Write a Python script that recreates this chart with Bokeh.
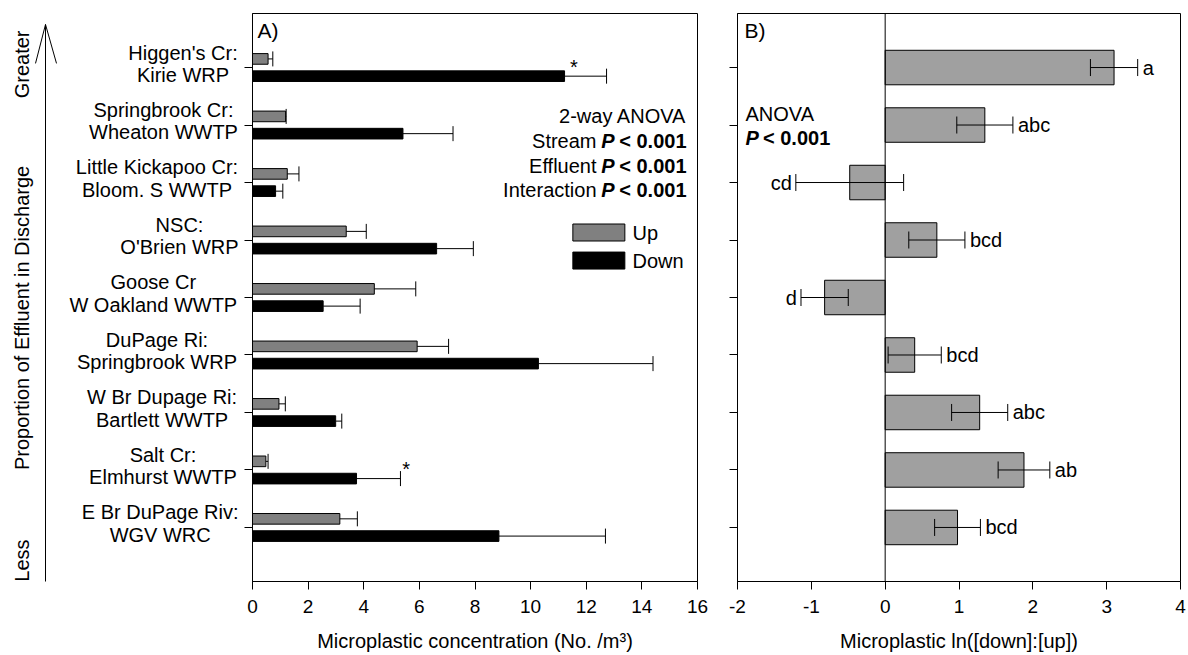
import math
from bokeh.plotting import figure
from bokeh.layouts import row
from bokeh.models import (ColumnDataSource, Range1d, FixedTicker, Whisker, TeeHead, Span,
                          Label, Arrow)
from bokeh.core.properties import value
from bokeh.embed import file_html
from bokeh.resources import INLINE

# ---------------- data ----------------
site_line1 = ["Higgen's Cr:", "Springbrook Cr:", "Little Kickapoo Cr:", "NSC:", "Goose Cr",
              "DuPage Ri:", "W Br Dupage Ri:", "Salt Cr:", "E Br DuPage Riv:"]
site_line2 = ["Kirie WRP", "Wheaton WWTP", "Bloom. S WWTP", "O'Brien WRP", "W Oakland WWTP",
              "Springbrook WRP", "Bartlett WWTP", "Elmhurst WWTP", "WGV WRC"]
up_mean = [0.56, 1.19, 1.25, 3.37, 4.38, 5.92, 0.95, 0.48, 3.14]
up_err = [0.17, 0.02, 0.42, 0.72, 1.49, 1.13, 0.23, 0.08, 0.63]
down_mean = [11.22, 5.41, 0.83, 6.62, 2.54, 10.28, 2.99, 3.74, 8.86]
down_err = [1.51, 1.80, 0.26, 1.32, 1.33, 4.12, 0.22, 1.58, 3.83]
ln_ratio = [3.10, 1.35, -0.48, 0.70, -0.82, 0.40, 1.28, 1.88, 0.98]
ln_err = [0.32, 0.38, 0.73, 0.38, 0.32, 0.36, 0.38, 0.35, 0.31]
letters = ["a", "abc", "cd", "bcd", "d", "bcd", "abc", "ab", "bcd"]
sig_sites = ["Higgen's Cr:", "Salt Cr:"]
x_ticks_a = [0, 2, 4, 6, 8, 10, 12, 14, 16]
x_ticks_b = [-2, -1, 0, 1, 2, 3, 4]

# ---------------- layout constants (page pixels) ----------------
FONT = "Liberation Sans"
FIG_H = 654
TOP = 13
BOTTOM = 72
FH = FIG_H - TOP - BOTTOM
Y0, Y1 = 0.06, 9.94
PPU = FH / (Y1 - Y0)
LEFT_W = 240
A_BL, A_FW, A_BR = 12, 445, 14
B_BL, B_FW, B_BR = 26, 443, 6
A_X0 = LEFT_W + A_BL
B_X0 = LEFT_W + A_BL + A_FW + A_BR + B_BL
BASE_FIX = 7  # px: lift for alphabetic-baseline texts
UP_COLOR = "#808080"
B_COLOR = "#a0a0a0"
LABEL_CX = [182.5, 163, 156.5, 179, 152.8, 156.5, 161.6, 162.5, 159.7]
SIG_X = [573.5, 405.7]

n = len(site_line1)
ypos = [n - i for i in range(n)]


def ry(y_px):
    return Y1 - (y_px - TOP) / PPU


def rby(y_px):
    # baseline position (alphabetic) with render correction
    return ry(y_px - BASE_FIX)


def rxa(x_px):
    return (x_px - A_X0) / A_FW * 16


def rxb(x_px):
    return (x_px - B_X0) / B_FW * 6 - 2


def txt(p, x, y, t, size="20px", align="left", baseline="alphabetic", style="normal",
        x_offset=0, angle=0):
    p.text(x=x, y=y, text=t, text_font=value(FONT), text_font_size=value(size),
           text_align=align, text_baseline=baseline, text_font_style=style,
           text_color="black", x_offset=x_offset, angle=angle)


def style_axes(p):
    for ax in list(p.xaxis) + list(p.yaxis):
        ax.major_tick_in = 0
        ax.major_tick_out = 8
        ax.minor_tick_line_color = None
        ax.axis_line_color = "black"
        ax.major_tick_line_color = "black"
        ax.major_label_text_font = FONT
        ax.axis_label_text_font = FONT
        ax.axis_label_text_font_style = "normal"
        ax.axis_label_text_font_size = "20px"
        ax.axis_label_text_color = "black"
        ax.major_label_text_color = "black"
    p.xaxis.major_label_text_font_size = "19px"
    p.xaxis.major_label_standoff = 10
    p.xaxis.axis_label_standoff = 14
    p.yaxis.ticker = FixedTicker(ticks=ypos)
    p.yaxis.major_label_text_font_size = "0px"
    p.yaxis.major_label_overrides = {y: "" for y in ypos}
    p.yaxis.major_label_standoff = 0
    p.grid.visible = False
    p.outline_line_color = "black"
    p.outline_line_width = 1
    p.outline_line_alpha = 1


y_range = Range1d(Y0, Y1)

# ---------------- left label area ----------------
pl = figure(width=LEFT_W, height=FIG_H, x_range=Range1d(0, LEFT_W), y_range=y_range,
            x_axis_type=None, y_axis_type=None, output_backend="svg",
            toolbar_location=None, min_border_left=0, min_border_right=0,
            min_border_top=TOP, min_border_bottom=BOTTOM, outline_line_color=None)
pl.grid.visible = False
for t, yy in (("Proportion of Effluent in Discharge", 318), ("Greater", 64), ("Less", 561)):
    pl.add_layout(Label(x=21, y=ry(yy), text=t, angle=math.pi / 2, text_align="center",
                        text_baseline="middle", text_font=FONT, text_font_size="20px",
                        text_color="black"))
pl.add_layout(Arrow(x_start=45, y_start=ry(24), x_end=45, y_end=ry(598), start=None, end=None,
                    line_color="black", line_width=1))
pl.segment(x0=[45, 45], y0=[ry(24)] * 2, x1=[35, 56], y1=[ry(63), ry(63)],
           line_color="black", line_width=1)
txt(pl, LABEL_CX, [y + 0.14 + BASE_FIX / PPU for y in ypos], site_line1, align="center")
txt(pl, LABEL_CX, [y - 0.245 + BASE_FIX / PPU for y in ypos], site_line2, align="center")

# ---------------- panel A ----------------
pa = figure(width=A_BL + A_FW + A_BR, height=FIG_H, x_range=Range1d(0, 16), y_range=y_range,
            output_backend="svg", toolbar_location=None,
            min_border_left=A_BL, min_border_right=A_BR,
            min_border_top=TOP, min_border_bottom=BOTTOM)
src_a = ColumnDataSource(dict(
    y_up=[y + 0.15 for y in ypos], y_dn=[y - 0.15 for y in ypos],
    up=up_mean, dn=down_mean,
    up_hi=[m + e for m, e in zip(up_mean, up_err)],
    dn_hi=[m + e for m, e in zip(down_mean, down_err)],
))
pa.hbar(y="y_up", left=0, right="up", height=0.185, fill_color=UP_COLOR,
        line_color="black", line_width=1, source=src_a)
pa.hbar(y="y_dn", left=0, right="dn", height=0.185, fill_color="black",
        line_color="black", line_width=1, source=src_a)
for base, lo, hi in (("y_up", "up", "up_hi"), ("y_dn", "dn", "dn_hi")):
    pa.add_layout(Whisker(source=src_a, base=base, lower=lo, upper=hi, dimension="width",
                          lower_head=None,
                          upper_head=TeeHead(size=15, line_color="black", line_width=1),
                          line_color="black", line_width=1, level="annotation"))
style_axes(pa)
pa.xaxis.ticker = FixedTicker(ticks=x_ticks_a)
pa.xaxis.axis_label = "Microplastic concentration (No. /m\u00b3)"

sig_y = [ypos[site_line1.index(s)] - 0.15 + 0.16 for s in sig_sites]
txt(pa, [rxa(x) for x in SIG_X], sig_y, ["*"] * len(sig_sites), align="center")

txt(pa, [rxa(257)], [rby(36.7)], ["A)"], size="21px")
ax_anchor = rxa(686)
txt(pa, [ax_anchor], [rby(123)], ["2-way ANOVA"], align="right")
rows_y = [rby(148), rby(173), rby(197)]
txt(pa, [ax_anchor] * 3, rows_y, ["Stream", "Effluent", "Interaction"], align="right",
    x_offset=-90)
txt(pa, [ax_anchor] * 3, rows_y, ["P"] * 3, align="right", style="bold italic", x_offset=-71.8)
txt(pa, [ax_anchor] * 3, rows_y, ["< 0.001"] * 3, align="right", style="bold")

# legend
pa.rect(x=[rxa(598.35)] * 2, y=[ry(232.4), ry(260.5)], width=52, height=17,
        width_units="screen", height_units="screen",
        fill_color=[UP_COLOR, "black"], line_color="black", line_width=1)
txt(pa, [rxa(624)] * 2, [ry(232.4), ry(260.5)], ["Up", "Down"], baseline="middle",
    x_offset=8)

# ---------------- panel B ----------------
pb = figure(width=B_BL + B_FW + B_BR, height=FIG_H, x_range=Range1d(-2, 4), y_range=y_range,
            output_backend="svg", toolbar_location=None,
            min_border_left=B_BL, min_border_right=B_BR,
            min_border_top=TOP, min_border_bottom=BOTTOM)
src_b = ColumnDataSource(dict(
    y=ypos, v=ln_ratio,
    lo=[m - e for m, e in zip(ln_ratio, ln_err)],
    hi=[m + e for m, e in zip(ln_ratio, ln_err)],
))
pb.hbar(y="y", left=0, right="v", height=0.6, fill_color=B_COLOR, line_color="black",
        line_width=1, source=src_b)
pb.add_layout(Span(location=0, dimension="height", line_color="black", line_width=1))
pb.add_layout(Whisker(source=src_b, base="y", lower="lo", upper="hi", dimension="width",
                      lower_head=TeeHead(size=17, line_color="black", line_width=1),
                      upper_head=TeeHead(size=17, line_color="black", line_width=1),
                      line_color="black", line_width=1, level="annotation"))
style_axes(pb)
pb.xaxis.ticker = FixedTicker(ticks=x_ticks_b)
pb.xaxis.major_label_overrides = {t: str(t) for t in x_ticks_b}
pb.xaxis.axis_label = "Microplastic ln([down]:[up])"

pos_i = [i for i in range(n) if ln_ratio[i] >= 0]
neg_i = [i for i in range(n) if ln_ratio[i] < 0]
txt(pb, [ln_ratio[i] + ln_err[i] for i in pos_i], [ypos[i] for i in pos_i],
    [letters[i] for i in pos_i], baseline="middle", x_offset=5)
txt(pb, [ln_ratio[i] - ln_err[i] for i in neg_i], [ypos[i] for i in neg_i],
    [letters[i] for i in neg_i], align="right", baseline="middle", x_offset=-4)

txt(pb, [rxb(744)], [rby(36.7)], ["B)"], size="21px")
txt(pb, [rxb(745)], [rby(121)], ["ANOVA"])
txt(pb, [rxb(745)], [rby(145)], ["P"], style="bold italic")
txt(pb, [rxb(745)], [rby(145)], ["< 0.001"], style="bold", x_offset=17.5)

layout = row(pl, pa, pb)
open("out.html", "w").write(file_html(layout, INLINE))
